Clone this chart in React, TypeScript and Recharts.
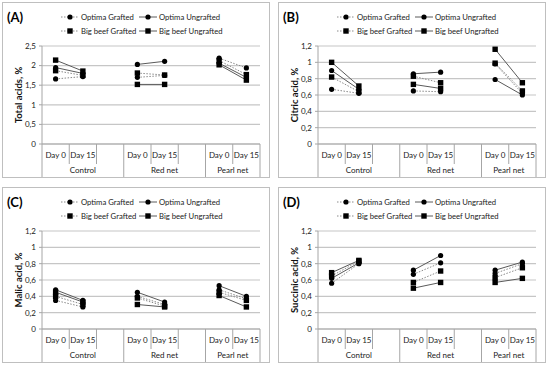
import { LineChart, Line, XAxis, YAxis, CartesianGrid } from 'recharts'

const days = ['Day 0', 'Day 15', '', 'Day 0', 'Day 15', '', 'Day 0', 'Day 15']
const groups = [
  { label: 'Control', start: 0, span: 3 },
  { label: 'Red net', start: 3, span: 3 },
  { label: 'Pearl net', start: 6, span: 2 },
]
const seriesNames = ['Optima Grafted', 'Optima Ungrafted', 'Big beef Grafted', 'Big beef Ungrafted']

const totalTicks = [0, 0.5, 1, 1.5, 2, 2.5]
const acidTicks = [0, 0.2, 0.4, 0.6, 0.8, 1, 1.2]

// (A) total acids
const totalOG = [1.66, 1.72, null, 1.70, 1.75, null, 2.19, 1.94]
const totalOU = [1.95, 1.80, null, 2.03, 2.11, null, 2.06, 1.70]
const totalBG = [1.87, 1.75, null, 1.81, 1.76, null, 2.13, 1.77]
const totalBU = [2.14, 1.86, null, 1.52, 1.52, null, 2.02, 1.63]

// (B) citric acid
const citricOG = [0.67, 0.62, null, 0.65, 0.64, null, 0.98, 0.62]
const citricOU = [0.90, 0.67, null, 0.86, 0.88, null, 0.79, 0.60]
const citricBG = [0.82, 0.64, null, 0.83, 0.75, null, 0.99, 0.65]
const citricBU = [1.00, 0.71, null, 0.73, 0.68, null, 1.16, 0.75]

// (C) malic acid
const malicOG = [0.35, 0.27, null, 0.40, 0.30, null, 0.48, 0.37]
const malicOU = [0.48, 0.35, null, 0.45, 0.33, null, 0.53, 0.40]
const malicBG = [0.40, 0.30, null, 0.38, 0.28, null, 0.45, 0.35]
const malicBU = [0.45, 0.33, null, 0.30, 0.27, null, 0.41, 0.27]

// (D) succinic acid
const succOG = [0.56, 0.80, null, 0.67, 0.81, null, 0.68, 0.80]
const succOU = [0.62, 0.81, null, 0.72, 0.90, null, 0.72, 0.82]
const succBG = [0.65, 0.83, null, 0.57, 0.71, null, 0.63, 0.75]
const succBU = [0.69, 0.84, null, 0.50, 0.57, null, 0.57, 0.62]

const font = 'Lato, "Open Sans", sans-serif'
const gridGray = '#c6c6c6'
const axisGray = '#a6a6a6'
const solidGray = '#5a5a5a'
const dotGray = '#8a8a8a'

const panels = [
  { tag: '(A)', yLabel: 'Total acids, %', max: 2.5, ticks: totalTicks, series: [totalOG, totalOU, totalBG, totalBU], left: 2, top: 2 },
  { tag: '(B)', yLabel: 'Citric acid, %', max: 1.2, ticks: acidTicks, series: [citricOG, citricOU, citricBG, citricBU], left: 278, top: 2 },
  { tag: '(C)', yLabel: 'Malic acid, %', max: 1.2, ticks: acidTicks, series: [malicOG, malicOU, malicBG, malicBU], left: 2, top: 187 },
  { tag: '(D)', yLabel: 'Succinic acid, %', max: 1.2, ticks: acidTicks, series: [succOG, succOU, succBG, succBU], left: 278, top: 187 },
]

const keys = ['og', 'ou', 'bg', 'bu']
const dashed = [true, false, true, false]
const square = [false, false, true, true]

const W = 268
const H = 176
const M_RIGHT = 9
const Y_W = 39
// half of one category slot: plot width / categories / 2
const HALF = (W - 2 - M_RIGHT - Y_W) / days.length / 2
const FS = 8

const SquareDot = (props: any) => {
  const { cx, cy, value } = props
  if (value == null || cx == null || cy == null || isNaN(cy)) return <g key={props.key} />
  return <rect key={props.key} x={cx - 2.7} y={cy - 2.7} width={5.4} height={5.4} fill="#000" />
}

const DayTick = (props: any) => {
  const { x, y, index } = props
  const left = x - HALF
  const group = groups.find((g) => g.start === index)
  const last = index === days.length - 1
  return (
    <g>
      <line x1={left} x2={left} y1={y} y2={y + (group ? 33 : 20)} stroke={axisGray} />
      {last && <line x1={x + HALF} x2={x + HALF} y1={y} y2={y + 33} stroke={axisGray} />}
      <text x={x} y={y + 14} textAnchor="middle" fontSize={FS} fill="#222" fontFamily={font}>
        {days[index]}
      </text>
      {group && (
        <text x={left + group.span * HALF} y={y + 29} textAnchor="middle" fontSize={FS} fill="#222" fontFamily={font}>
          {group.label}
        </text>
      )}
    </g>
  )
}

const YLabel = (props: any) => {
  const { viewBox, value } = props
  const cx = viewBox.x + 15
  const cy = viewBox.y + viewBox.height / 2
  return (
    <text x={cx} y={cy} transform={`rotate(-90 ${cx} ${cy})`} textAnchor="middle" dominantBaseline="central"
      fontSize={9.5} fontWeight="bold" fill="#111" fontFamily={font}>
      {value}
    </text>
  )
}

const LegendBlock = ({ tag }: { tag: string }) => {
  const items = seriesNames.map((name, i) => ({
    name,
    x: i % 2 === 0 ? 58 : 136,
    y: i < 2 ? 14 : 28,
    dashed: dashed[i],
    square: square[i],
  }))
  return (
    <svg width={W} height={40} style={{ position: 'absolute', left: 0, top: 0 }}>
      <text x={4} y={19} fontSize={13} fontWeight="bold" fill="#000" fontFamily={font}>{tag}</text>
      {items.map((it) => (
        <g key={it.name}>
          <line x1={it.x} x2={it.x + 18} y1={it.y} y2={it.y} stroke={it.dashed ? dotGray : solidGray}
            strokeDasharray={it.dashed ? '1.5 1.5' : undefined} />
          {it.square
            ? <rect x={it.x + 6.3} y={it.y - 2.7} width={5.4} height={5.4} fill="#000" />
            : <circle cx={it.x + 9} cy={it.y} r={2.6} fill="#000" />}
          <text x={it.x + 20} y={it.y} dominantBaseline="central" fontSize={7.7} fill="#222" fontFamily={font}>
            {it.name}
          </text>
        </g>
      ))}
    </svg>
  )
}

const Panel = ({ panel }: { panel: typeof panels[number] }) => {
  const data = days.map((day, i) => ({
    day,
    og: panel.series[0][i],
    ou: panel.series[1][i],
    bg: panel.series[2][i],
    bu: panel.series[3][i],
  }))
  return (
    <div style={{ position: 'absolute', left: panel.left, top: panel.top, width: W, height: H, border: '1px solid #bfbfbf', boxSizing: 'border-box', background: '#fff' }}>
      <LineChart width={W - 2} height={H - 2} data={data} margin={{ top: 43, right: M_RIGHT, left: 0, bottom: 0 }}>
        <CartesianGrid vertical={false} stroke={gridGray} strokeWidth={1.2} />
        <XAxis dataKey="day" interval={0} tickSize={0} tickMargin={0} height={33}
          padding={{ left: HALF, right: HALF }}
          axisLine={{ stroke: axisGray }} tickLine={false} tick={<DayTick />} />
        <YAxis width={Y_W} domain={[0, panel.max]} ticks={panel.ticks} interval={0} tickSize={3} tickMargin={3}
          axisLine={{ stroke: axisGray }} tickLine={{ stroke: axisGray }}
          tick={{ fontSize: FS, fill: '#222', fontFamily: font }}
          tickFormatter={(v: number) => String(v).replace('.', ',')}
          label={<YLabel value={panel.yLabel} />} />
        {keys.map((k, i) => (
          <Line key={k} dataKey={k} name={seriesNames[i]} isAnimationActive={false}
            stroke={dashed[i] ? dotGray : solidGray} strokeWidth={1}
            strokeDasharray={dashed[i] ? '1.5 1.5' : undefined}
            dot={square[i] ? <SquareDot /> : { r: 2.6, fill: '#000', stroke: '#000', strokeWidth: 0 }}
            activeDot={false} />
        ))}
      </LineChart>
      <LegendBlock tag={panel.tag} />
    </div>
  )
}

export default function App() {
  return (
    <div style={{ position: 'absolute', left: 0, top: 0, width: 550, height: 371, background: '#fff', fontFamily: font }}>
      {panels.map((p) => (
        <Panel key={p.tag} panel={p} />
      ))}
    </div>
  )
}
